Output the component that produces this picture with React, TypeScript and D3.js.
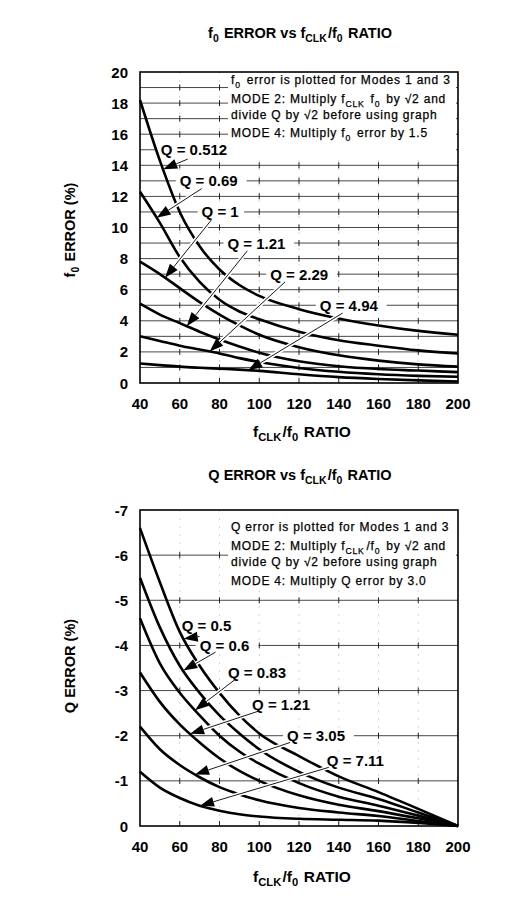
import React from 'react';
import * as d3 from 'd3';

const FONT = '"Liberation Sans", Arial, Helvetica, sans-serif';

// fCLK/f0 ratio sample points
const ratios = [40, 50, 60, 70, 80, 90, 100, 120, 140, 160, 180, 200];
const xTicks = [40, 60, 80, 100, 120, 140, 160, 180, 200];

// f0 error (%) vs ratio, one row per Q
const f0Qs = ['0.512', '0.69', '1', '1.21', '2.29', '4.94'];
const f0Err = [
  [18.2, 14.3, 11.0, 8.8, 7.3, 6.3, 5.6, 4.75, 4.15, 3.7, 3.35, 3.1],
  [12.3, 10.3, 8.1, 6.5, 5.35, 4.6, 4.1, 3.3, 2.75, 2.4, 2.1, 1.9],
  [7.8, 7.0, 6.1, 5.2, 4.4, 3.7, 3.1, 2.3, 1.78, 1.44, 1.2, 1.05],
  [5.1, 4.4, 3.85, 3.3, 2.8, 2.35, 1.95, 1.4, 1.08, 0.9, 0.8, 0.7],
  [3.0, 2.7, 2.4, 2.15, 1.9, 1.6, 1.35, 0.97, 0.72, 0.56, 0.46, 0.4],
  [1.25, 1.15, 1.05, 0.98, 0.92, 0.86, 0.78, 0.56, 0.38, 0.26, 0.17, 0.1],
];
const f0Ticks = [0, 2, 4, 6, 8, 10, 12, 14, 16, 18, 20];
const f0Grid = d3.range(1, 20);
// label anchors [ratio, error], leader start [ratio, error], arrow tip ratio
const f0LabelAt = [[50.5, 15], [60, 13], [71, 11], [84, 9], [105.5, 7], [130.5, 5]];
const f0LeaderFrom = [[64, 14.4], [71, 12.5], [76, 10.5], [94, 8.5], [113, 6.5], [142, 4.5]];
const f0TipX = [51.7, 48.4, 52.6, 63.5, 75, 94.5];

// Q error (%) vs ratio, one row per Q
const qQs = ['0.5', '0.6', '0.83', '1.21', '3.05', '7.11'];
const qErr = [
  [-6.6, -5.4, -4.3, -3.55, -2.95, -2.45, -2.05, -1.55, -1.1, -0.75, -0.38, 0],
  [-5.5, -4.4, -3.55, -2.95, -2.45, -2.05, -1.7, -1.2, -0.85, -0.6, -0.3, 0],
  [-4.6, -3.6, -2.95, -2.45, -2.0, -1.65, -1.38, -0.95, -0.65, -0.45, -0.23, 0],
  [-3.4, -2.75, -2.25, -1.85, -1.5, -1.22, -1.0, -0.68, -0.47, -0.33, -0.17, 0],
  [-2.2, -1.7, -1.35, -1.08, -0.86, -0.7, -0.57, -0.4, -0.3, -0.22, -0.11, 0],
  [-1.2, -0.85, -0.62, -0.45, -0.34, -0.26, -0.21, -0.16, -0.14, -0.12, -0.07, 0],
];
const qTicks = [0, -1, -2, -3, -4, -5, -6, -7];
const qGrid = [-1, -2, -3, -4, -5, -6];
const qLabelAt = [[61, -4.45], [70, -4], [84.3, -3.4], [96.4, -2.7], [114, -2], [134, -1.45]];
const qLeaderFrom = [[70, -4.2], [78, -3.85], [88, -3.25], [100, -2.55], [115.5, -1.85], [135, -1.3]];
const qTipX = [62, 61.8, 67.7, 65.2, 67.7, 70.2];

const Sub = ({ t }: { t: string }) => (
  <>
    <tspan dy={3.5} fontSize="0.72em">{t}</tspan>
    <tspan dy={-3.5}>{'\u200a'}</tspan>
  </>
);

type PanelProps = {
  top: number;
  bottom: number;
  left: number;
  right: number;
  yDomain: [number, number];
  ticks: number[];
  grid: number[];
  series: number[][];
  qs: string[];
  labelAt: number[][];
  leaderFrom: number[][];
  tipX: number[];
  title: React.ReactNode;
  titleY: number;
  yTitle: React.ReactNode;
  yTitleY: number;
  xTitleY: number;
  notes: React.ReactNode[];
  noteYs: number[];
  noteBottom: number;
};

function Panel(p: PanelProps) {
  const x = d3.scaleLinear().domain([40, 200]).range([p.left, p.right]);
  const y = d3.scaleLinear().domain(p.yDomain).range([p.bottom, p.top]);
  const line = d3
    .line<number>()
    .x((_, i) => x(ratios[i]))
    .y((d) => y(d))
    .curve(d3.curveMonotoneX);
  const noteX = 231;

  return (
    <g fontFamily={FONT}>
      <text x={300} y={p.titleY} textAnchor="middle" fontSize={14.5} fontWeight="bold">
        {p.title}
      </text>

      {/* faint vertical guides */}
      {xTicks.slice(1, -1).map((t) => (
        <line key={'v' + t} x1={x(t)} x2={x(t)} y1={p.top} y2={p.bottom}
          stroke="#c4c4c4" strokeWidth={0.7} strokeDasharray="2 6" />
      ))}

      {/* horizontal grid with + marks */}
      {p.grid.map((g) => (
        <g key={'h' + g}>
          <line x1={p.left} x2={p.right} y1={y(g)} y2={y(g)} stroke="#333" strokeWidth={0.9} />
          {xTicks.slice(1, -1).map((t) => (
            <line key={t} x1={x(t)} x2={x(t)} y1={y(g) - 3} y2={y(g) + 3} stroke="#222" strokeWidth={1} />
          ))}
        </g>
      ))}
      {xTicks.slice(1, -1).map((t) => (
        <line key={'bt' + t} x1={x(t)} x2={x(t)} y1={p.bottom - 5} y2={p.bottom} stroke="#222" strokeWidth={1} />
      ))}

      {/* note box */}
      <rect x={noteX - 3} y={p.top + 1} width={p.right - noteX + 1} height={p.noteBottom - p.top - 1} fill="#fff" />
      {p.notes.map((n, i) => (
        <text key={'n' + i} x={noteX} y={p.noteYs[i] + 4} fontSize={12} letterSpacing={0.8}
          stroke="#000" strokeWidth={0.25}>
          {n}
        </text>
      ))}

      {/* label backgrounds */}
      {p.qs.map((q, i) => {
        const w = (4 + q.length) * 8.1 + 6;
        return (
          <rect key={'lb' + i} x={x(p.labelAt[i][0]) - 4} y={y(p.labelAt[i][1]) - 8}
            width={w} height={16} fill="#fff" />
        );
      })}

      {/* curves */}
      {p.series.map((s, i) => (
        <path key={'c' + i} d={line(s) ?? ''} fill="none" stroke="#000" strokeWidth={2.6} />
      ))}

      {/* leaders and arrowheads */}
      {p.qs.map((q, i) => {
        const interp = d3.scaleLinear().domain(ratios).range(p.series[i]);
        const tx = x(p.tipX[i]);
        const ty = y(interp(p.tipX[i]));
        const fx = x(p.leaderFrom[i][0]);
        const fy = y(p.leaderFrom[i][1]);
        const a = Math.atan2(ty - fy, tx - fx);
        const L = 14;
        const W = 5;
        const bx = tx - L * Math.cos(a);
        const by = ty - L * Math.sin(a);
        const pts = [
          [tx, ty],
          [bx + W * Math.sin(a), by - W * Math.cos(a)],
          [bx - W * Math.sin(a), by + W * Math.cos(a)],
        ];
        return (
          <g key={'a' + i}>
            <line x1={fx} y1={fy} x2={bx} y2={by} stroke="#fff" strokeWidth={4} />
            <line x1={fx} y1={fy} x2={bx} y2={by} stroke="#000" strokeWidth={0.9} />
            <polygon points={pts.map((d) => d.join(',')).join(' ')} fill="#000" />
          </g>
        );
      })}

      {/* labels */}
      {p.qs.map((q, i) => (
        <text key={'l' + i} x={x(p.labelAt[i][0])} y={y(p.labelAt[i][1]) + 5.5}
          fontSize={15} fontWeight="bold">
          {'Q = ' + q}
        </text>
      ))}

      {/* frame */}
      <rect x={p.left} y={p.top} width={p.right - p.left} height={p.bottom - p.top}
        fill="none" stroke="#000" strokeWidth={1.6} />
      {p.ticks.map((t) => (
        <text key={'yt' + t} x={128} y={y(t) + 5.5} textAnchor="end" fontSize={15} fontWeight="bold">
          {t}
        </text>
      ))}
      {xTicks.map((t) => (
        <text key={'xt' + t} x={x(t)} y={p.bottom + 26} textAnchor="middle" fontSize={15} fontWeight="bold">
          {t}
        </text>
      ))}
      <text x={302} y={p.xTitleY} textAnchor="middle" fontSize={15.5} fontWeight="bold">
        f<Sub t="CLK" />/f<Sub t="0" /> RATIO
      </text>
      <text transform={`translate(75,${p.yTitleY}) rotate(-90)`} textAnchor="middle" fontSize={14.5} fontWeight="bold">
        {p.yTitle}
      </text>
    </g>
  );
}

export default function App() {
  return (
    <svg width={525} height={907} style={{ position: 'absolute', left: 0, top: 0, background: '#fff' }}>
      <Panel
        top={72}
        bottom={383}
        left={140}
        right={458}
        yDomain={[0, 20]}
        ticks={f0Ticks}
        grid={f0Grid}
        series={f0Err}
        qs={f0Qs}
        labelAt={f0LabelAt}
        leaderFrom={f0LeaderFrom}
        tipX={f0TipX}
        title={<>f<Sub t="0" /> ERROR vs f<Sub t="CLK" />/f<Sub t="0" /> RATIO</>}
        titleY={38}
        yTitle={<>f<Sub t="0" /> ERROR (%)</>}
        yTitleY={230}
        xTitleY={437}
        notes={[
          <>f<Sub t="0" /> error is plotted for Modes 1 and 3</>,
          <>MODE 2: Multiply f<Sub t="CLK" /> f<Sub t="0" /> by √2 and</>,
          <>divide Q by √2 before using graph</>,
          <>MODE 4: Multiply f<Sub t="0" /> error by 1.5</>,
        ]}
        noteYs={[80, 99, 115, 133]}
        noteBottom={157}
      />
      <Panel
        top={510}
        bottom={826}
        left={140}
        right={458}
        yDomain={[0, -7]}
        ticks={qTicks}
        grid={qGrid}
        series={qErr}
        qs={qQs}
        labelAt={qLabelAt}
        leaderFrom={qLeaderFrom}
        tipX={qTipX}
        title={<>Q ERROR vs f<Sub t="CLK" />/f<Sub t="0" /> RATIO</>}
        titleY={480}
        yTitle={<>Q ERROR (%)</>}
        yTitleY={666}
        xTitleY={882}
        notes={[
          <>Q error is plotted for Modes 1 and 3</>,
          <>MODE 2: Multiply f<Sub t="CLK" />/f<Sub t="0" /> by √2 and</>,
          <>divide Q by √2 before using graph</>,
          <>MODE 4: Multiply Q error by 3.0</>,
        ]}
        noteYs={[527, 546, 562, 581]}
        noteBottom={590}
      />
    </svg>
  );
}
